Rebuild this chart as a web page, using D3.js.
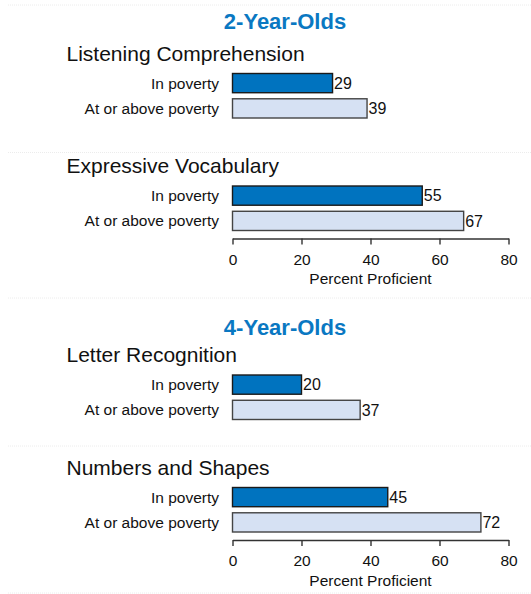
<!DOCTYPE html>
<html>
<head>
<meta charset="utf-8">
<script src="https://cdn.jsdelivr.net/npm/d3@7"></script>
<style>
  html, body { margin: 0; padding: 0; background: #fff; }
  svg { display: block; font-family: "Liberation Sans", Arial, sans-serif; }
</style>
</head>
<body>
<div id="chart"></div>
<script>
// ---- data ----
const ageGroups = ["2-Year-Olds", "4-Year-Olds"];
const measures = ["Listening Comprehension", "Expressive Vocabulary", "Letter Recognition", "Numbers and Shapes"];
const measureAgeGroup = [0, 0, 1, 1];
const incomeGroups = ["In poverty", "At or above poverty"];
const inPoverty = [29, 55, 20, 45];
const atOrAbovePoverty = [39, 67, 37, 72];
const xTicks = [0, 20, 40, 60, 80];
const xTitle = "Percent Proficient";

// ---- layout ----
const W = 531, H = 594;
const halfOffset = [0, 301.5];
const groupTitleY = [28.5, 335];
const panelBarTop = [73.5, 186];
const axisY = 238.5;
const colors = ["#0073BF", "#D6E1F3"];
const strokes = ["#1a1a1a", "#444"];

const svg = d3.select("#chart").append("svg").attr("width", W).attr("height", H);

// faint dotted separators
[5, 152.5, 298, 446, 593].forEach(y => {
  svg.append("line").attr("x1", 8).attr("x2", W).attr("y1", y).attr("y2", y)
    .attr("stroke", "#ececec").attr("stroke-width", 1).attr("stroke-dasharray", "1,1");
});

const x = d3.scaleLinear().domain([0, 80]).range([232.5, 508.5]);
const yBand = d3.scaleBand().domain(incomeGroups).range([0, 44.5]).paddingInner(0.24).paddingOuter(0);

ageGroups.forEach((ag, h) => {
  const g = svg.append("g").attr("transform", `translate(0,${halfOffset[h]})`);
  svg.append("text")
    .attr("x", 285).attr("y", groupTitleY[h])
    .attr("text-anchor", "middle")
    .attr("font-size", "22px").attr("font-weight", "bold")
    .attr("fill", "#0A78C2")
    .text(ag);

  const idx = measures.map((m, i) => i).filter(i => measureAgeGroup[i] === h);
  idx.forEach((mi, p) => {
    const top = panelBarTop[p];
    const pg = g.append("g").attr("transform", `translate(0,${top})`);
    pg.append("text")
      .attr("x", 66.5).attr("y", -12.8)
      .attr("font-size", "21px").attr("fill", "#111")
      .text(measures[mi]);
    const vals = [inPoverty[mi], atOrAbovePoverty[mi]];
    incomeGroups.forEach((ig, k) => {
      const y0 = yBand(ig);
      pg.append("rect")
        .attr("x", x(0)).attr("y", y0)
        .attr("width", x(vals[k]) - x(0)).attr("height", yBand.bandwidth())
        .attr("fill", colors[k]).attr("stroke", strokes[k]).attr("stroke-width", 1.4);
      pg.append("text")
        .attr("x", 219).attr("y", y0 + yBand.bandwidth() / 2)
        .attr("dy", "0.35em").attr("text-anchor", "end")
        .attr("font-size", "15.5px").attr("fill", "#111")
        .text(ig);
      pg.append("text")
        .attr("x", x(vals[k]) + 1.5).attr("y", y0 + yBand.bandwidth() / 2)
        .attr("dy", "0.36em")
        .attr("font-size", "16px").attr("fill", "#111")
        .text(vals[k]);
    });
  });

  const axisG = g.append("g").attr("transform", `translate(0,${axisY})`)
    .call(d3.axisBottom(x).tickValues(xTicks).tickSize(6).tickSizeOuter(0).tickPadding(9));
  axisG.select(".domain").attr("stroke", "#333").attr("stroke-width", 1.4);
  axisG.selectAll(".tick line").attr("stroke", "#333").attr("stroke-width", 1.4);
  axisG.selectAll(".tick text").attr("font-size", "15.5px").attr("fill", "#111")
    .attr("font-family", "\"Liberation Sans\", Arial, sans-serif");
  g.append("text")
    .attr("x", (x(0) + x(80)) / 2).attr("y", axisY + 45.5)
    .attr("text-anchor", "middle")
    .attr("font-size", "15.5px").attr("fill", "#111")
    .text(xTitle);
});
</script>
</body>
</html>
